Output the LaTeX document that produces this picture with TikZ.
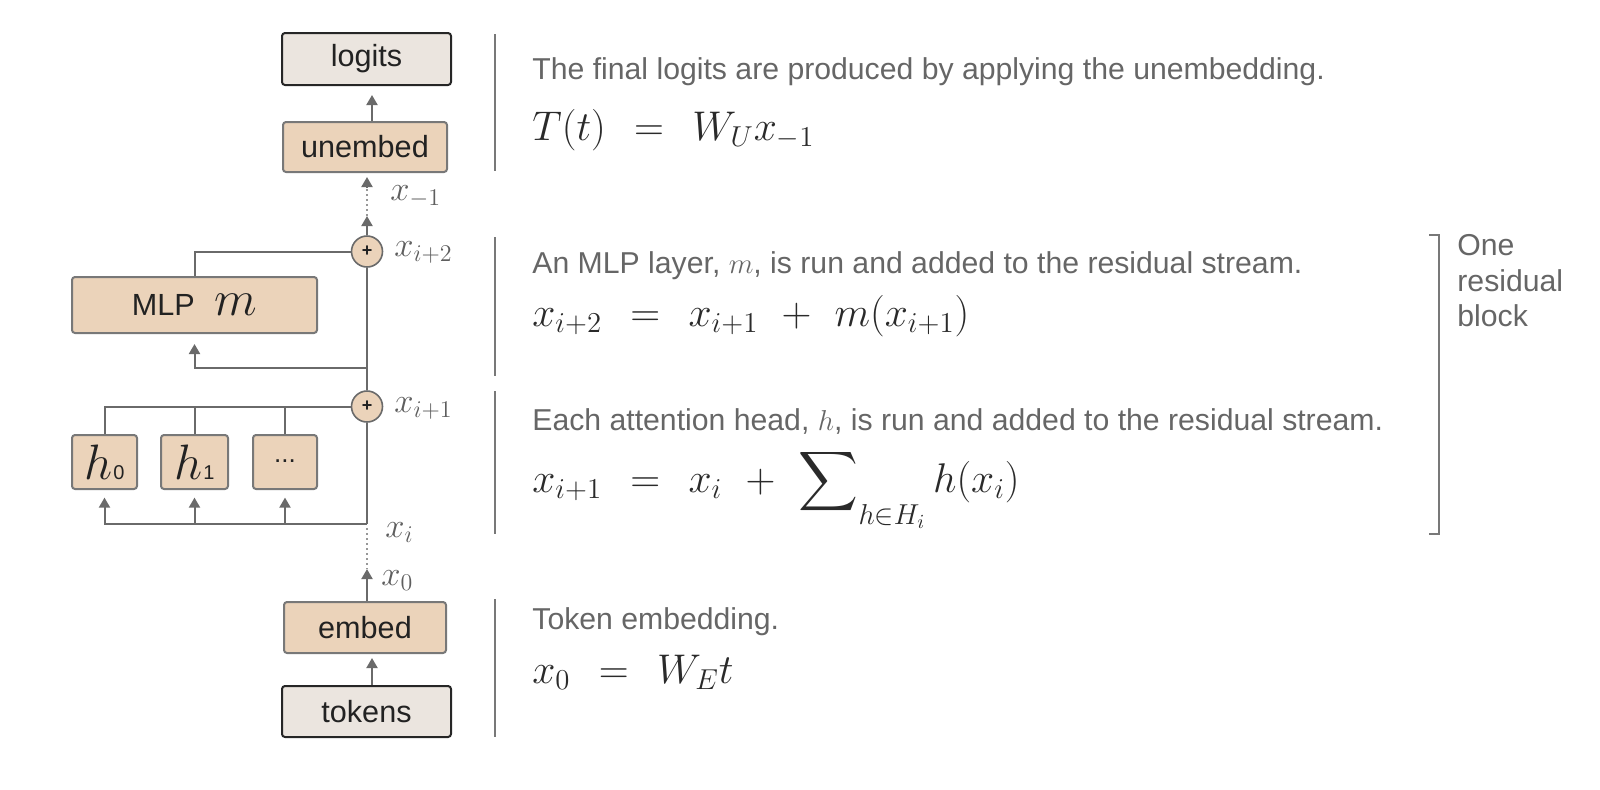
\documentclass[tikz,border=0pt]{standalone}
\usepackage[no-math]{fontspec}
\usepackage{exscale}
\setmainfont{Liberation Sans}
\usetikzlibrary{arrows.meta}
\definecolor{boxtan}{HTML}{EBD3BA}
\definecolor{boxline}{HTML}{787878}
\definecolor{iofill}{HTML}{EBE5DF}
\definecolor{iodark}{HTML}{262626}
\definecolor{linegrey}{HTML}{6A6A6A}
\definecolor{descgrey}{HTML}{666666}
\definecolor{mathgrey}{HTML}{2A2A2A}
\definecolor{lblgrey}{HTML}{5E5E5E}
\definecolor{textdark}{HTML}{222222}
\newcommand{\eqq}{\hspace{0.42em}=\hspace{0.42em}}
\newcommand{\pls}{\hspace{0.35em}+\hspace{0.35em}}
\begin{document}
\begin{tikzpicture}[x=0.5pt,y=-0.5pt,
  box/.style={draw=boxline, fill=boxtan, line width=1pt, rounded corners=1.5pt, inner sep=0pt, font=\fontsize{15.3}{18}\selectfont, text=textdark},
  iobox/.style={box, draw=iodark, fill=iofill},
  plus/.style={circle, draw=linegrey, fill=boxtan, line width=0.8pt, minimum size=15.5pt, inner sep=0pt, font=\fontsize{9}{10}\selectfont\bfseries, text=textdark},
  conn/.style={draw=linegrey, line width=1pt},
  arr/.style={conn, -{Triangle[length=5pt,width=5.5pt]}},
  dots/.style={draw=linegrey!70, line width=0.8pt, dash pattern=on 1pt off 1.5pt},
  lbl/.style={inner sep=0pt, text=lblgrey, font=\fontsize{16.8}{19}\selectfont},
  desc/.style={inner sep=0pt, text=descgrey, font=\fontsize{15.1}{18}\selectfont},
  eqn/.style={inner sep=0pt, text=mathgrey, font=\fontsize{20}{24}\selectfont},
  sep/.style={draw=boxline, line width=0.9pt}
]
\useasboundingbox (0,0) rectangle (1600,789);

% boxes
\node[iobox, minimum width=84.5pt, minimum height=26pt] (logits) at (366.5,59) {logits};
\node[box, minimum width=82pt, minimum height=25pt] (unembed) at (365,147) {unembed};
\node[box, minimum width=122.5pt, minimum height=28pt] (mlp) at (194.5,305) {MLP\hspace{0.65em}{\fontsize{23}{26}\selectfont$m$}};
\node[box, minimum width=32.5pt, minimum height=27pt] (h0) at (104.5,462) {{\fontsize{24}{26}\selectfont$h$}\kern0.3pt{\fontsize{10}{11}\selectfont 0}};
\node[box, minimum width=33.5pt, minimum height=27pt] (h1) at (194.5,462) {{\fontsize{24}{26}\selectfont$h$}\kern0.3pt{\fontsize{10}{11}\selectfont 1}};
\node[box, minimum width=32pt, minimum height=27pt] (hd) at (285,462) {\raisebox{1pt}{\fontsize{13}{14}\selectfont ...}};
\node[box, minimum width=81pt, minimum height=25.5pt] (embed) at (365,627.5) {embed};
\node[iobox, minimum width=84.5pt, minimum height=25.5pt] (tokens) at (366.5,711.5) {tokens};
\node[plus] (p1) at (367,251.5) {+};
\node[plus] (p2) at (367,406.5) {+};

% helper coordinates
\coordinate (ax) at (372,0);
\coordinate (u1) at (367,216);
\coordinate (u2) at (367,188);
\coordinate (j2) at (367,368);
\coordinate (j1) at (367,524);
\coordinate (x0tip) at (367,569);

% connectors
\draw[arr, shorten >=4.5pt] (unembed.north -| ax) -- (logits.south -| ax);
\draw[arr, shorten >=2pt] (tokens.north -| ax) -- (embed.south -| ax);
\draw[arr] (p1.north) -- (u1);
\draw[dots] (u1) -- (u2);
\draw[arr, shorten >=2pt] (u2) -- (unembed.south -| u2);
\draw[conn] (p1.south) -- (p2.north);
\draw[conn] (p1.west) -| (mlp.north);
\draw[arr, shorten >=5pt] (j2) -| (mlp.south);
\draw[conn] (p2.west) -| (h0.north);
\draw[conn] (h1.north) -- (h1.north |- p2.west);
\draw[conn] (hd.north) -- (hd.north |- p2.west);
\draw[conn] (p2.south) -- (j1);
\draw[arr, shorten >=3.8pt] (j1) -| (h0.south);
\draw[arr, shorten >=3.8pt] (h1.south |- j1) -- (h1.south);
\draw[arr, shorten >=3.8pt] (hd.south |- j1) -- (hd.south);
\draw[dots] (j1) ++(0,4) -- (x0tip);
\draw[arr] (embed.north -| x0tip) -- (x0tip);

% stream labels
\node[lbl, anchor=base west] (lxm1) at (390,200) {$x_{-1}$};
\node[lbl, anchor=base west] (lx2) at (394,256) {$x_{i+2}$};
\node[lbl, anchor=base west] (lx1) at (394,412) {$x_{i+1}$};
\node[lbl, anchor=base west] (lxi) at (385,537) {$x_i$};
\node[lbl, anchor=base west] (lx0) at (381,585) {$x_0$};

% separators
\draw[sep] (495,34) -- (495,171);
\draw[sep] (495,237) -- (495,376);
\draw[sep] (495,391) -- (495,534);
\draw[sep] (495,599) -- (495,737);

% descriptions
\node[desc, anchor=base west] (d1) at (532,79) {The final logits are produced by applying the unembedding.};
\node[eqn, anchor=base west] (e1) at (532,140) {$T(t)\eqq W_U x_{-1}$};
\node[desc, anchor=base west] (d2) at (532,273) {An MLP layer, $m$, is run and added to the residual stream.};
\node[eqn, anchor=base west] (e2) at (532,326) {$x_{i+2}\eqq x_{i+1}\pls m(x_{i+1})$};
\node[desc, anchor=base west] (d3) at (532,430) {Each attention head, $h$, is run and added to the residual stream.};
\node[eqn, anchor=base west] (e3) at (532,492) {$x_{i+1}\eqq x_i\pls \displaystyle\sum\nolimits_{\raisebox{-4pt}{$\scriptstyle h\in H_i$}} h(x_i)$};
\node[desc, anchor=base west] (d4) at (532,629) {Token embedding.};
\node[eqn, anchor=base west] (e4) at (532,683) {$x_0\eqq W_E t$};

% residual block bracket
\draw[sep] (1429,235) -- (1439,235) -- (1439,534) -- (1429,534);
\node[desc, anchor=base west] (r1) at (1457,255) {One};
\node[desc, anchor=base west] (r2) at (1457,291) {residual};
\node[desc, anchor=base west] (r3) at (1457,326) {block};
\end{tikzpicture}
\end{document}
